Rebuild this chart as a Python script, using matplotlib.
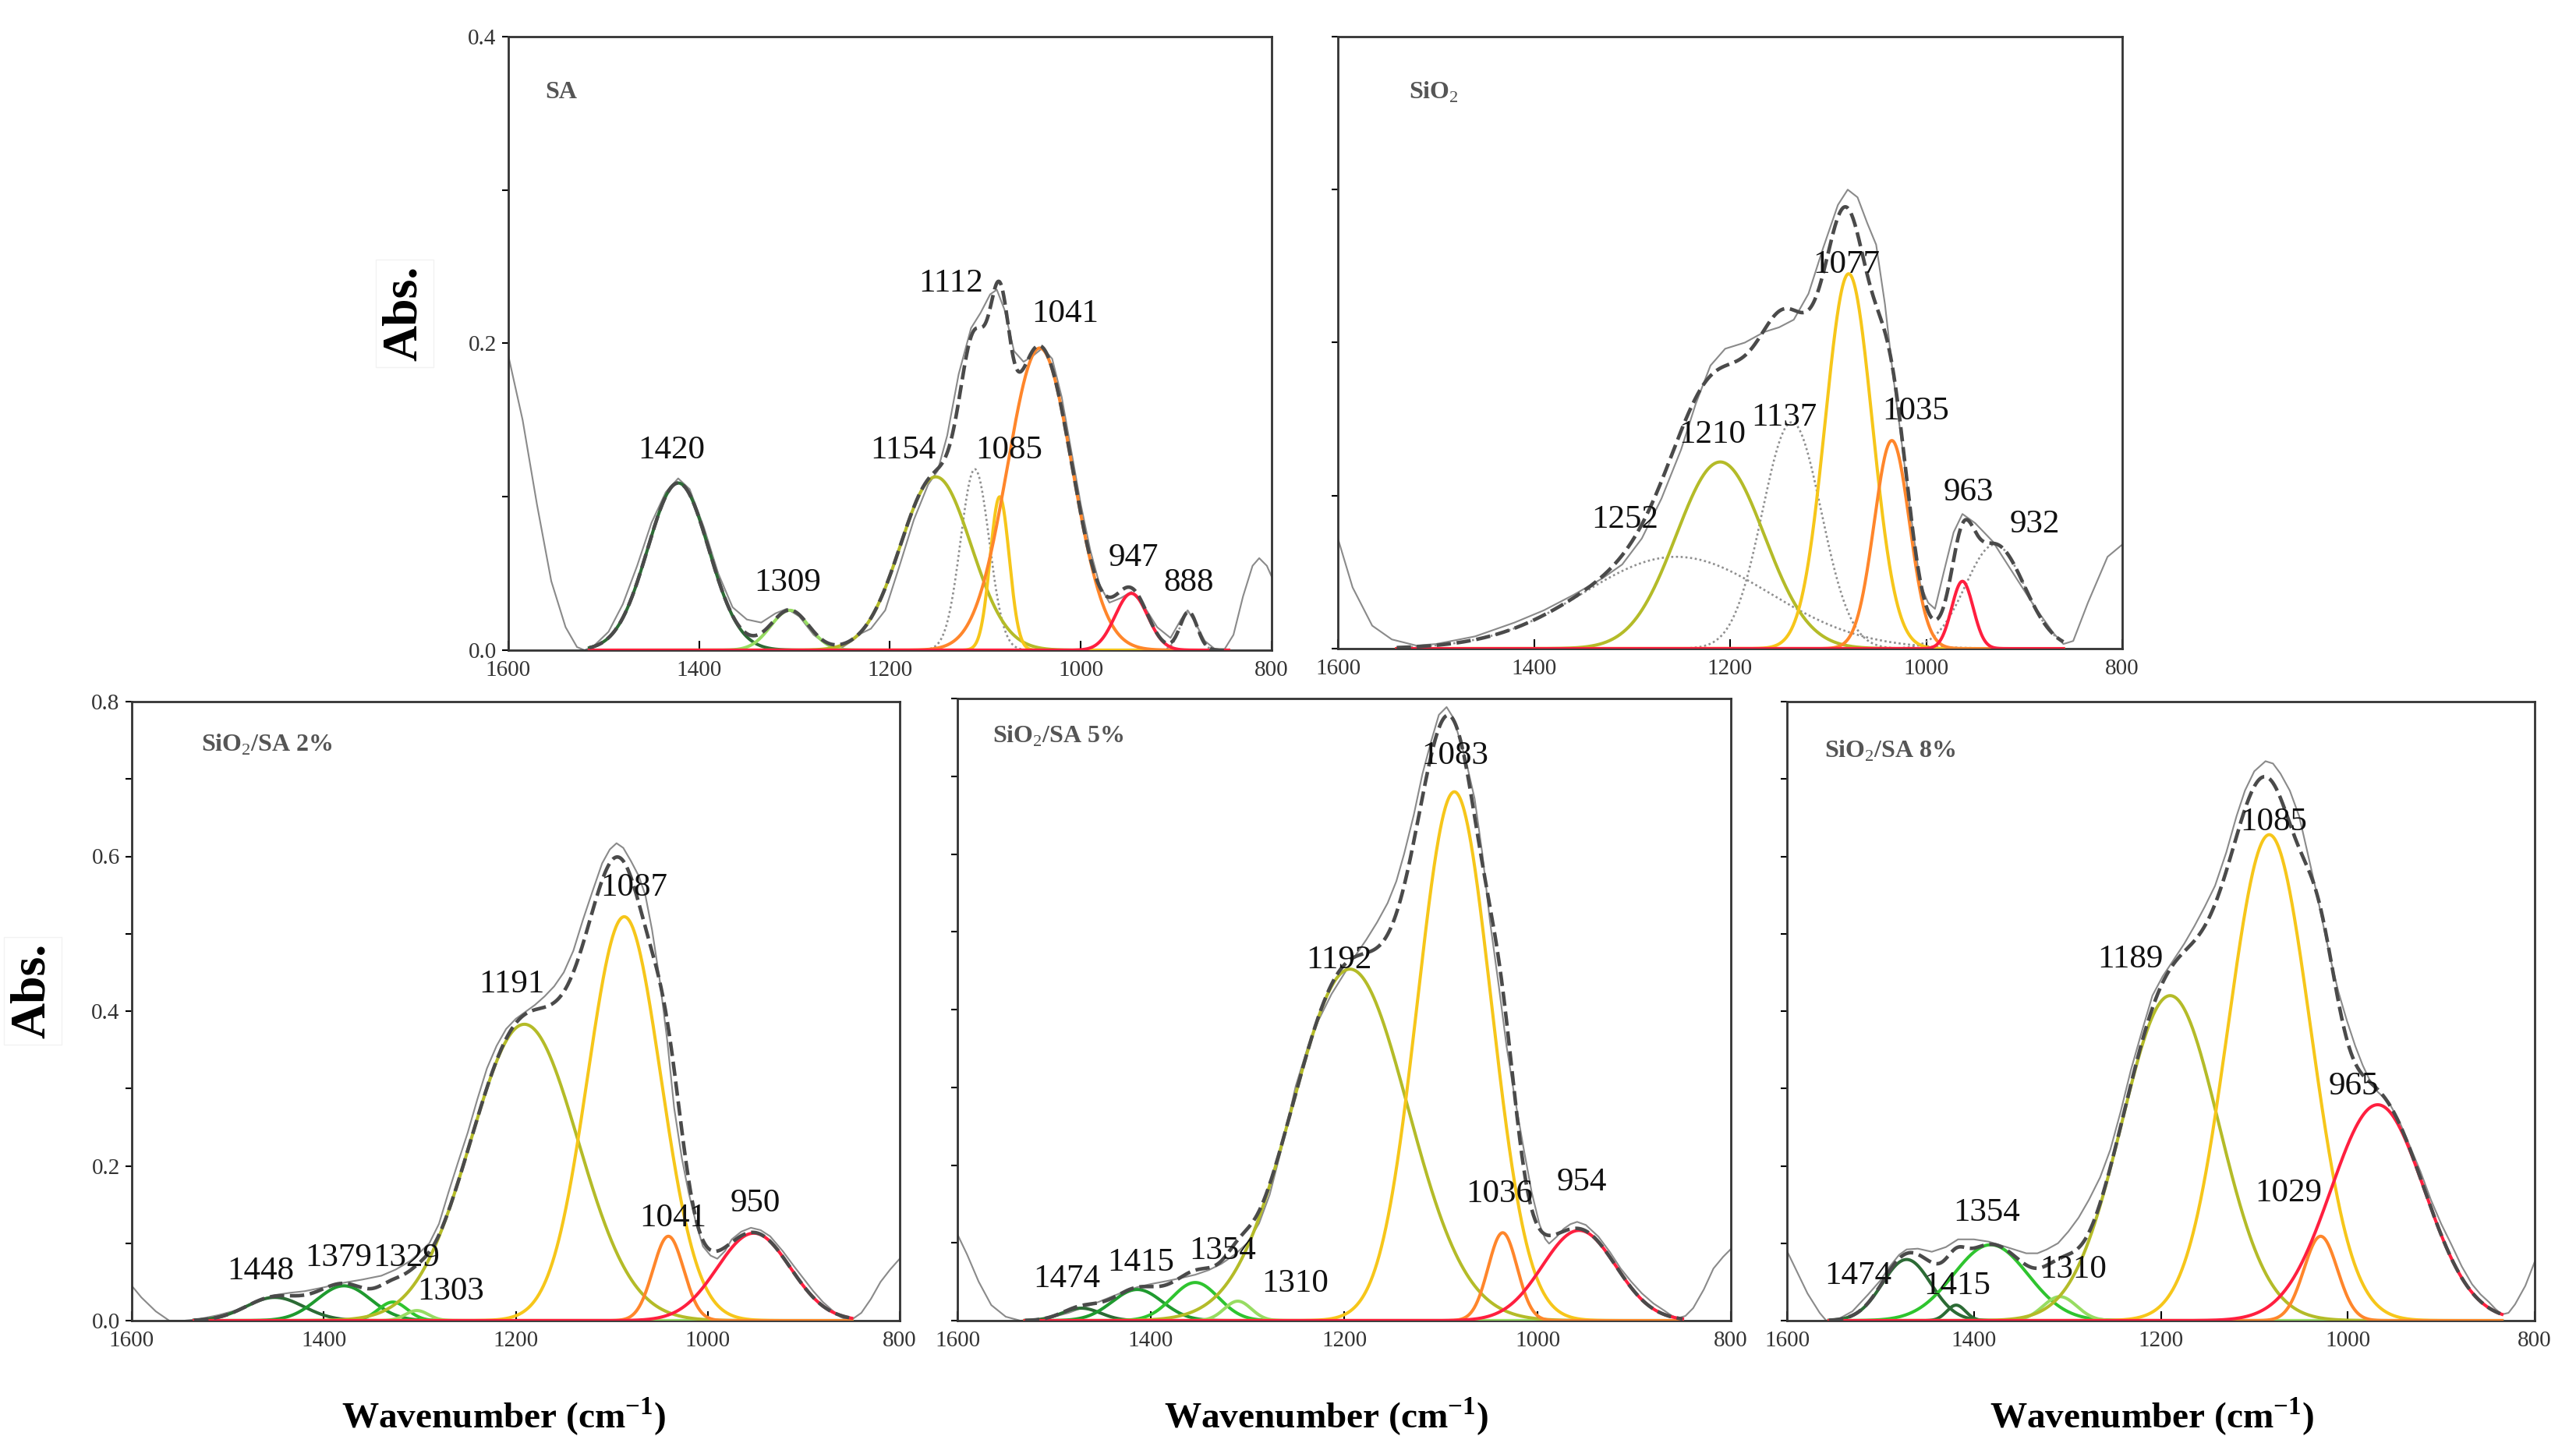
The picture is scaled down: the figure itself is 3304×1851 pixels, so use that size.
import numpy as np
import matplotlib.pyplot as plt

plt.rcParams['font.family'] = ['Liberation Serif', 'DejaVu Serif']
plt.rcParams['mathtext.fontset'] = 'custom'
plt.rcParams['mathtext.rm'] = 'Liberation Serif'
plt.rcParams['mathtext.bf'] = 'Liberation Serif:bold'

# ---------------- data ----------------
# measured spectra (wavenumber, absorbance)
sa_wn = [1600, 1585, 1570, 1555, 1540, 1528, 1520, 1510, 1495, 1480, 1465, 1450, 1435, 1422,
         1410, 1395, 1380, 1365, 1350, 1335, 1320, 1308, 1295, 1280, 1265, 1252, 1240, 1230,
         1220, 1205, 1190, 1175, 1160, 1150, 1140, 1128, 1115, 1105, 1095, 1088, 1080, 1070,
         1060, 1050, 1040, 1030, 1020, 1010, 1000, 990, 980, 970, 958, 947, 935, 920, 906,
         895, 888, 880, 870, 860, 850, 840, 830, 820, 813, 805, 800]
sa_abs = [0.192, 0.15, 0.095, 0.045, 0.015, 0.002, 0.0, 0.003, 0.012, 0.03, 0.055, 0.083, 0.103, 0.112,
          0.105, 0.08, 0.05, 0.028, 0.02, 0.018, 0.024, 0.027, 0.022, 0.01, 0.003, 0.001, 0.006, 0.011,
          0.014, 0.026, 0.055, 0.085, 0.108, 0.117, 0.14, 0.18, 0.21, 0.22, 0.232, 0.235, 0.222, 0.195,
          0.188, 0.192, 0.197, 0.19, 0.165, 0.13, 0.095, 0.065, 0.042, 0.031, 0.034, 0.038, 0.03, 0.015, 0.008,
          0.02, 0.026, 0.018, 0.006, 0.001, 0.0, 0.01, 0.035, 0.055, 0.06, 0.055, 0.048]

si_wn = [1600, 1585, 1565, 1545, 1520, 1500, 1460, 1420, 1390, 1360, 1330, 1310, 1290, 1270, 1250,
         1235, 1220, 1205, 1185, 1165, 1150, 1135, 1120, 1105, 1090, 1080, 1070, 1060, 1051, 1042,
         1034, 1025, 1017, 1006, 998, 991, 982, 972, 963, 950, 932, 910, 890, 870, 860, 850, 835,
         815, 800]
si_abs = [0.072, 0.04, 0.015, 0.006, 0.002, 0.003, 0.008, 0.017, 0.025, 0.035, 0.046, 0.055, 0.072,
          0.098, 0.13, 0.16, 0.185, 0.196, 0.2, 0.207, 0.21, 0.215, 0.232, 0.262, 0.29, 0.3, 0.295,
          0.278, 0.264, 0.225, 0.18, 0.135, 0.094, 0.042, 0.03, 0.026, 0.05, 0.076, 0.088, 0.082,
          0.07, 0.048, 0.028, 0.01, 0.003, 0.005, 0.03, 0.06, 0.068]

s2_wn = [1600, 1590, 1575, 1561, 1545, 1530, 1510, 1492, 1470, 1451, 1435, 1420, 1400, 1379, 1360,
         1340, 1325, 1310, 1300, 1290, 1280, 1270, 1260, 1250, 1240, 1230, 1220, 1210, 1200, 1190,
         1180, 1170, 1160, 1150, 1140, 1130, 1120, 1110, 1102, 1095, 1088, 1080, 1072, 1065, 1058,
         1050, 1042, 1035, 1027, 1020, 1012, 1005, 997, 990, 982, 975, 965, 955, 945, 935, 922,
         910, 900, 890, 880, 870, 862, 855, 848, 840, 830, 820, 810, 800]
s2_abs = [0.045, 0.03, 0.012, 0.0, 0.0, 0.002, 0.007, 0.013, 0.025, 0.033, 0.036, 0.038, 0.043, 0.049,
          0.053, 0.058, 0.066, 0.077, 0.088, 0.1, 0.125, 0.166, 0.205, 0.243, 0.286, 0.326, 0.355,
          0.377, 0.39, 0.399, 0.408, 0.419, 0.432, 0.45, 0.478, 0.518, 0.555, 0.591, 0.609, 0.617,
          0.611, 0.594, 0.575, 0.55, 0.505, 0.44, 0.36, 0.275, 0.21, 0.166, 0.125, 0.096, 0.084,
          0.08, 0.09, 0.105, 0.115, 0.12, 0.117, 0.109, 0.09, 0.07, 0.054, 0.038, 0.024, 0.013,
          0.005, 0.001, 0.003, 0.01, 0.028, 0.05, 0.066, 0.08]

s5_wn = [1600, 1590, 1578, 1565, 1550, 1535, 1520, 1500, 1485, 1472, 1458, 1444, 1430, 1414, 1400,
         1383, 1368, 1354, 1340, 1327, 1313, 1300, 1288, 1277, 1265, 1250, 1238, 1227, 1213, 1199,
         1188, 1177, 1166, 1155, 1146, 1138, 1128, 1119, 1110, 1102, 1094, 1087, 1082, 1074, 1065,
         1057, 1049, 1040, 1032, 1024, 1015, 1006, 998, 992, 988, 980, 973, 966, 959, 950, 937,
         925, 914, 903, 892, 880, 869, 862, 855, 847, 839, 828, 818, 808, 800]
s5_abs = [0.111, 0.085, 0.05, 0.02, 0.005, 0.0, 0.001, 0.005, 0.01, 0.016, 0.022, 0.029, 0.036, 0.043,
          0.047, 0.051, 0.055, 0.059, 0.065, 0.073, 0.085, 0.1, 0.125, 0.162, 0.22, 0.302, 0.35,
          0.385, 0.42, 0.448, 0.47, 0.49, 0.512, 0.537, 0.565, 0.6, 0.65, 0.703, 0.745, 0.779,
          0.789, 0.775, 0.754, 0.72, 0.671, 0.6, 0.512, 0.43, 0.353, 0.29, 0.226, 0.165, 0.124,
          0.105, 0.099, 0.108, 0.118, 0.124, 0.127, 0.123, 0.108, 0.088, 0.067, 0.05, 0.035, 0.022,
          0.013, 0.007, 0.003, 0.006, 0.016, 0.04, 0.067, 0.082, 0.092]

s8_wn = [1600, 1590, 1578, 1565, 1558, 1545, 1530, 1513, 1500, 1490, 1480, 1472, 1460, 1445, 1430,
         1417, 1400, 1384, 1365, 1344, 1332, 1322, 1310, 1299, 1288, 1277, 1265, 1254, 1243, 1232,
         1220, 1209, 1198, 1187, 1175, 1164, 1153, 1142, 1130, 1119, 1110, 1100, 1088, 1080, 1072,
         1062, 1052, 1044, 1035, 1026, 1018, 1010, 1001, 992, 984, 977, 970, 963, 956, 945, 934,
         922, 911, 900, 889, 878, 867, 858, 849, 842, 835, 828, 821, 810, 800]
s8_abs = [0.09, 0.065, 0.035, 0.01, 0.0, 0.002, 0.012, 0.034, 0.052, 0.07, 0.085, 0.092, 0.093, 0.089,
          0.095, 0.105, 0.105, 0.102, 0.095, 0.087, 0.087, 0.092, 0.1, 0.115, 0.133, 0.156, 0.185,
          0.221, 0.27, 0.324, 0.375, 0.42, 0.445, 0.465, 0.487, 0.51, 0.535, 0.562, 0.605, 0.652,
          0.685, 0.71, 0.723, 0.72, 0.707, 0.685, 0.652, 0.61, 0.562, 0.51, 0.465, 0.425, 0.388,
          0.355, 0.33, 0.312, 0.298, 0.29, 0.282, 0.258, 0.227, 0.192, 0.156, 0.125, 0.098, 0.07,
          0.047, 0.034, 0.024, 0.015, 0.008, 0.01, 0.021, 0.045, 0.076]

# fitted gaussian components: centre, height, sigma (cm-1)
sa_center = [1422, 1305, 1152, 1111, 1085, 1043, 947, 887]
sa_height = [0.109, 0.026, 0.113, 0.118, 0.100, 0.197, 0.037, 0.025]
sa_sigma = [32, 20, 37, 15, 10, 34, 17, 9]
sa_labels = ['1420', '1309', '1154', '1112', '1085', '1041', '947', '888']

si_center = [1255, 1210, 1137, 1079, 1035, 963, 930]
si_height = [0.060, 0.122, 0.148, 0.245, 0.136, 0.044, 0.068]
si_sigma = [95, 45, 30, 24, 18, 11, 30]
si_labels = ['1252', '1210', '1137', '1077', '1035', '963', '932']

s2_center = [1451, 1379, 1328, 1303, 1191, 1087, 1041, 952]
s2_height = [0.030, 0.045, 0.024, 0.013, 0.383, 0.522, 0.109, 0.113]
s2_sigma = [30, 28, 15, 12, 56, 38, 16, 38]
s2_labels = ['1448', '1379', '1329', '1303', '1191', '1087', '1041', '950']

s5_center = [1472, 1414, 1354, 1310, 1194, 1086, 1036, 957]
s5_height = [0.016, 0.040, 0.049, 0.025, 0.452, 0.680, 0.113, 0.116]
s5_sigma = [20, 26, 24, 14, 60, 38, 15, 38]
s5_labels = ['1474', '1415', '1354', '1310', '1192', '1083', '1036', '954']

s8_center = [1472, 1419, 1382, 1308, 1190, 1084, 1029, 968]
s8_height = [0.079, 0.020, 0.098, 0.031, 0.420, 0.628, 0.109, 0.279]
s8_sigma = [26, 10, 40, 18, 52, 44, 18, 50]
s8_labels = ['1474', '1415', '1354', '1310', '1189', '1085', '1029', '965']

# ---------------- styles / layout ----------------
DKG = '#2c6b35'
GRN = '#1f9a2f'
BRG = '#2fc42f'
LTG = '#97dc62'
OLV = '#b4bb28'
YEL = '#f6c61a'
ORG = '#ff862b'
RED = '#ff1f3f'
DOT = 'dotted'

sa_colors = [DKG, LTG, OLV, DOT, YEL, ORG, RED, DOT]
si_colors = [DOT, OLV, DOT, YEL, ORG, RED, DOT]
s2_colors = [DKG, GRN, BRG, LTG, OLV, YEL, ORG, RED]
s5_colors = [DKG, GRN, BRG, LTG, OLV, YEL, ORG, RED]
s8_colors = [DKG, DKG, BRG, LTG, OLV, YEL, ORG, RED]

sa_lab_xy = [(1429, 0.130), (1307, 0.044), (1186, 0.130), (1136, 0.239), (1075, 0.130),
             (1016, 0.219), (945, 0.060), (887, 0.044)]
si_lab_xy = [(1307, 0.084), (1218, 0.140), (1145, 0.151), (1081, 0.251), (1011, 0.155),
             (957, 0.102), (889, 0.081)]
s2_lab_xy = [(1466, 0.064), (1385, 0.081), (1314, 0.081), (1268, 0.038), (1204, 0.435),
             (1077, 0.559), (1036, 0.132), (950, 0.151)]
s5_lab_xy = [(1487, 0.053), (1410, 0.074), (1326, 0.089), (1251, 0.047), (1205, 0.463),
             (1085, 0.726), (1039, 0.163), (954, 0.178)]
s8_lab_xy = [(1524, 0.058), (1418, 0.045), (1386, 0.139), (1294, 0.066), (1233, 0.467),
             (1079, 0.644), (1063, 0.164), (994, 0.303)]

W, H = 3304, 1851


def px_rect(l, r, t, b):
    return [l / W, 1 - b / H, (r - l) / W, (b - t) / H]


def gauss(x, c, h, s):
    return h * np.exp(-(x - c) ** 2 / (2.0 * s * s))


def draw_panel(ax, wn, ab, centers, heights, sigmas, colors, labels, lab_xy,
               fit_range, ymax, show_y, title, title_xy):
    ax.plot(wn, ab, color='#8a8a8a', lw=1.5, zorder=2)
    x = np.linspace(fit_range[0], fit_range[1], 1200)
    total = np.zeros_like(x)
    for c, h, s, col in zip(centers, heights, sigmas, colors):
        y = gauss(x, c, h, s)
        total += y
        if col == DOT:
            ax.plot(x, y, color='#8f8f8f', lw=1.9, ls=(0, (1, 1.3)), zorder=3)
    for c, h, s, col in zip(centers, heights, sigmas, colors):
        if col != DOT:
            ax.plot(x, gauss(x, c, h, s), color=col, lw=2.9, zorder=4)
    ax.plot(x, total, color='#4a4a4a', lw=3.3, ls=(0, (4, 1.6)), zorder=5)

    for txt, (lx, ly) in zip(labels, lab_xy):
        ax.text(lx, ly, txt, fontsize=31, ha='center', va='center', color='#111111', zorder=6)

    ax.text(title_xy[0], title_xy[1], title, transform=ax.transAxes, fontsize=23,
            fontweight='bold', color='#555555', ha='left', va='center')

    ax.set_xlim(1600, 800)
    ax.set_ylim(0, ymax)
    ax.set_xticks([1600, 1400, 1200, 1000, 800])
    yt = np.round(np.arange(0, ymax + 1e-9, 0.1), 1)
    ax.set_yticks(yt)
    if show_y:
        ax.set_yticklabels(['%.1f' % v if round(v * 10) % 2 == 0 else '' for v in yt])
    else:
        ax.set_yticklabels([''] * len(yt))
    ax.tick_params(axis='x', direction='in', length=9, width=1.5, labelsize=21,
                   labelcolor='#333333', pad=9)
    ax.tick_params(axis='y', direction='out', length=6, width=1.5, labelsize=21,
                   labelcolor='#333333', pad=5)
    for sp in ax.spines.values():
        sp.set_linewidth(2.0)
        sp.set_color('#333333')


fig = plt.figure(figsize=(W / 100, H / 100), dpi=100)

ax_sa = fig.add_axes(px_rect(652, 1631, 47, 834))
ax_si = fig.add_axes(px_rect(1716, 2722, 47, 832))
ax_2 = fig.add_axes(px_rect(169, 1154, 900, 1694))
ax_5 = fig.add_axes(px_rect(1228, 2220, 896, 1694))
ax_8 = fig.add_axes(px_rect(2292, 3251, 900, 1694))

draw_panel(ax_sa, sa_wn, sa_abs, sa_center, sa_height, sa_sigma, sa_colors, sa_labels,
           sa_lab_xy, (1515, 845), 0.4, True, 'SA', (0.048, 0.909))
draw_panel(ax_si, si_wn, si_abs, si_center, si_height, si_sigma, si_colors, si_labels,
           si_lab_xy, (1540, 860), 0.4, False, r'SiO$_2$', (0.09, 0.909))
draw_panel(ax_2, s2_wn, s2_abs, s2_center, s2_height, s2_sigma, s2_colors, s2_labels,
           s2_lab_xy, (1535, 850), 0.8, True, r'SiO$_2$/SA 2%', (0.09, 0.93))
draw_panel(ax_5, s5_wn, s5_abs, s5_center, s5_height, s5_sigma, s5_colors, s5_labels,
           s5_lab_xy, (1530, 850), 0.8, False, r'SiO$_2$/SA 5%', (0.045, 0.94))
draw_panel(ax_8, s8_wn, s8_abs, s8_center, s8_height, s8_sigma, s8_colors, s8_labels,
           s8_lab_xy, (1555, 835), 0.8, False, r'SiO$_2$/SA 8%', (0.05, 0.92))

box = dict(facecolor='white', edgecolor='#f2f2f2', pad=6)
fig.text(519 / W, 1 - 402 / H, 'Abs.', rotation=90, fontsize=46, fontweight='bold',
         ha='center', va='center', bbox=box)
fig.text(42 / W, 1 - 1271 / H, 'Abs.', rotation=90, fontsize=46, fontweight='bold',
         ha='center', va='center', bbox=box)
for cx in (646, 1701, 2760):
    fig.text(cx / W, 1 - 1817 / H, r'Wavenumber (cm$^{\mathbf{-1}}$)', fontsize=34,
             fontweight='bold', ha='center', va='center')

fig.savefig('out.png', dpi=100)
